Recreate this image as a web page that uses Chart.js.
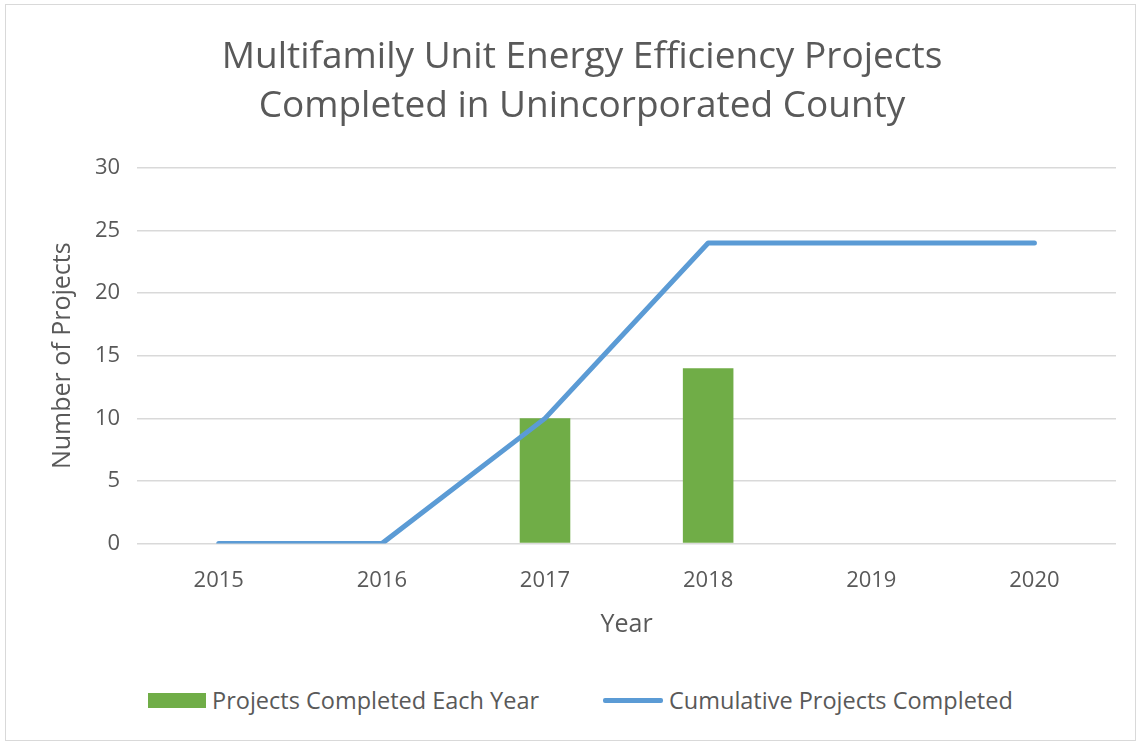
<!DOCTYPE html>
<html>
<head>
<meta charset="utf-8">
<script src="https://cdn.jsdelivr.net/npm/chart.js@4.4.1/dist/chart.umd.min.js"></script>
<style>
  html, body { margin: 0; padding: 0; background: #fff; }
  body { width: 1138px; height: 744px; position: relative; overflow: hidden; font-family: "Open Sans", sans-serif; }
  #frame { position: absolute; left: 5px; top: 4px; width: 1131px; height: 737px; border: 1.5px solid #d9d9d9; box-sizing: border-box; }
  #wrap { position: absolute; left: 0; top: 0; width: 1138px; height: 660px; }
  #legend { position: absolute; top: 684px; left: 0; width: 1138px; height: 32px; color: #595959; font-size: 23.5px; }
  .item { position: absolute; top: 0; display: flex; align-items: center; height: 32px; }
  .swatch-bar { width: 58px; height: 15px; background: #70ad47; margin-right: 6px; }
  .swatch-line { width: 60px; height: 5px; background: #5b9bd5; margin-right: 6px; border-radius: 2px; }
</style>
</head>
<body>
<div id="frame"></div>
<div id="wrap"><canvas id="chart" width="1138" height="660"></canvas></div>
<div id="legend"></div>

<script>
// chart data
const years = ['2015', '2016', '2017', '2018', '2019', '2020'];
const completedEachYear = [null, null, 10, 14, null, null];
const cumulativeCompleted = [0, 0, 10, 24, 24, 24];
const yTicks = [0, 5, 10, 15, 20, 25, 30];

const titleLines = ['Multifamily Unit Energy Efficiency Projects', 'Completed in Unincorporated County'];
const barLabel = 'Projects Completed Each Year';
const lineLabel = 'Cumulative Projects Completed';

const textColor = '#595959';
const gridColor = '#d9d9d9';

/* ─────────────────────────────────────────────
   Chart
───────────────────────────────────────────── */

function renderChart() {
  const ctx = document.getElementById('chart');

  new Chart(ctx, {
    type: 'bar',
    data: {
      labels: years,
      datasets: [
        {
          type: 'line',
          label: lineLabel,
          data: cumulativeCompleted,
          borderColor: '#5b9bd5',
          borderWidth: 5,
          borderJoinStyle: 'round',
          borderCapStyle: 'round',
          pointRadius: 0,
          tension: 0,
          fill: false,
          order: 0
        },
        {
          label: barLabel,
          data: completedEachYear,
          backgroundColor: '#70ad47',
          barPercentage: 0.31,
          categoryPercentage: 1,
          order: 1
        }
      ]
    },
    options: {
      responsive: false,
      animation: false,
      layout: { padding: { left: 48, right: 22, top: 20, bottom: 16 } },
      plugins: {
        legend: { display: false },
        tooltip: { enabled: false },
        title: {
          display: true,
          text: titleLines,
          color: textColor,
          font: { family: 'Open Sans', size: 37, weight: 'normal', lineHeight: 1.35 },
          padding: { top: 12, bottom: 36 }
        }
      },
      scales: {
        x: {
          grid: { display: false },
          border: { display: false },
          ticks: { color: textColor, font: { family: 'Open Sans', size: 22 }, padding: 16 },
          title: {
            display: true,
            text: 'Year',
            color: textColor,
            font: { family: 'Open Sans', size: 25 },
            padding: { top: 0 }
          }
        },
        y: {
          min: 0,
          max: 30,
          afterBuildTicks: axis => { axis.ticks = yTicks.map(v => ({ value: v })); },
          grid: { color: gridColor, lineWidth: 1.5, drawTicks: false },
          border: { display: false },
          ticks: { color: textColor, font: { family: 'Open Sans', size: 22 }, padding: 17 },
          title: {
            display: true,
            text: 'Number of Projects',
            color: textColor,
            font: { family: 'Open Sans', size: 25 },
            padding: { top: 0, bottom: 0 }
          }
        }
      }
    }
  });
}

/* ─────────────────────────────────────────────
   Legend
───────────────────────────────────────────── */

function renderLegend() {
  const legend = document.getElementById('legend');
  legend.innerHTML = `
    <div class="item" style="left:148px"><div class="swatch-bar"></div><span>${barLabel}</span></div>
    <div class="item" style="left:603px"><div class="swatch-line"></div><span>${lineLabel}</span></div>
  `;
}

renderChart();
renderLegend();
</script>
</body>
</html>
